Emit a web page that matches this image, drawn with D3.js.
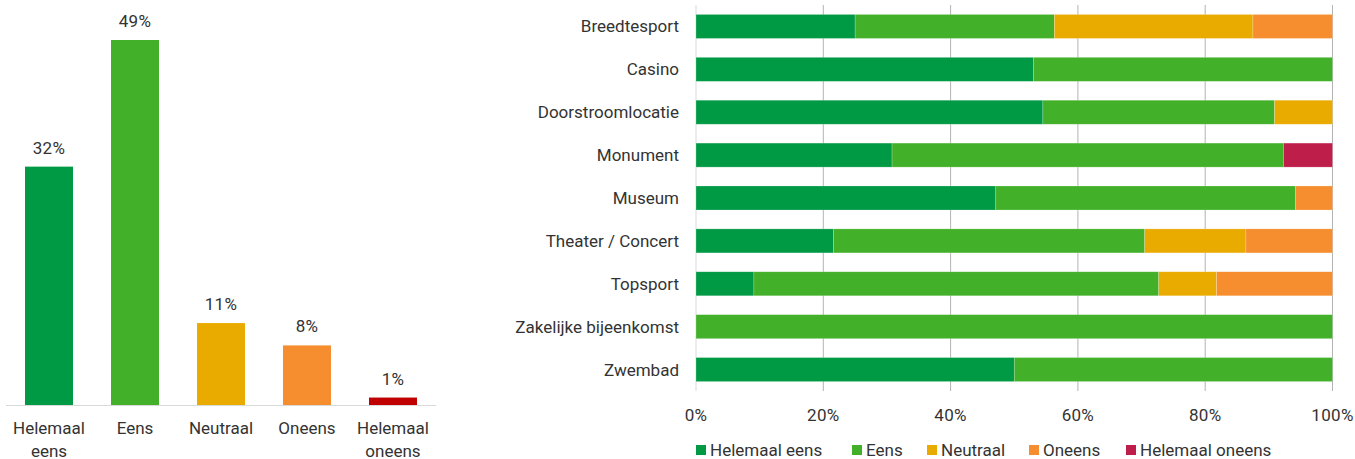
<!DOCTYPE html>
<html>
<head>
<meta charset="utf-8">
<script src="https://cdn.jsdelivr.net/npm/d3@7"></script>
<style>
  html, body { margin: 0; padding: 0; background: #fff; }
  svg { display: block; font-family: Roboto, "Liberation Sans", Arial, sans-serif; font-weight: 400; }
  text { fill: #333; }
</style>
</head>
<body>
<svg id="chart" width="1355" height="459"></svg>
<script>
// Overall answer distribution
const answerLabels = ["Helemaal eens", "Eens", "Neutraal", "Oneens", "Helemaal oneens"];
const totalShares = [32, 49, 11, 8, 1];
const totalColors = ["#009A44", "#43B02A", "#EAAB00", "#F68D2E", "#C00000"];

// Distribution per type of location
const locations = ["Breedtesport", "Casino", "Doorstroomlocatie", "Monument", "Museum",
                   "Theater / Concert", "Topsport", "Zakelijke bijeenkomst", "Zwembad"];
const helemaalEens   = [25.0, 53.0, 54.5, 30.8, 47.1, 21.6,  9.1,   0, 50];
const eens           = [31.3, 47.0, 36.4, 61.5, 47.1, 48.9, 63.6, 100, 50];
const neutraal       = [31.2,    0,  9.1,    0,    0, 15.9,  9.1,   0,  0];
const oneens         = [12.5,    0,    0,    0,  5.8, 13.6, 18.2,   0,  0];
const helemaalOneens = [   0,    0,    0,  7.7,    0,    0,    0,   0,  0];
const stackColors = ["#009A44", "#43B02A", "#EAAB00", "#F68D2E", "#BE1E4A"];
const pctTicks = [0, 20, 40, 60, 80, 100];

const FS = 17;
const svg = d3.select("#chart");

/* ---------- Left: column chart ---------- */
const left = svg.append("g");
const xL = d3.scaleBand().domain(answerLabels).range([6, 436])
  .paddingInner(0.442).paddingOuter(0.221);
const yL = d3.scaleLinear().domain([0, 49]).range([405, 40]);

left.selectAll("rect.col").data(totalShares).join("rect")
  .attr("class", "col")
  .attr("x", (d, i) => xL(answerLabels[i]))
  .attr("width", xL.bandwidth())
  .attr("y", d => yL(d))
  .attr("height", d => yL(0) - yL(d))
  .attr("fill", (d, i) => totalColors[i]);

left.append("line")
  .attr("x1", 6).attr("x2", 436)
  .attr("y1", yL(0) + 0.5).attr("y2", yL(0) + 0.5)
  .attr("stroke", "#d9d9d9").attr("stroke-width", 1);

left.selectAll("text.val").data(totalShares).join("text")
  .attr("class", "val")
  .attr("x", (d, i) => xL(answerLabels[i]) + xL.bandwidth() / 2)
  .attr("y", d => yL(d) - 13)
  .attr("text-anchor", "middle")
  .attr("font-size", FS)
  .attr("letter-spacing", 0.3)
  .text(d => d + "%");

const catText = left.selectAll("text.cat").data(answerLabels).join("text")
  .attr("class", "cat")
  .attr("text-anchor", "middle")
  .attr("font-size", FS);
catText.each(function (d) {
  const words = d.split(" ");
  const cx = xL(d) + xL.bandwidth() / 2;
  words.forEach((w, k) => {
    d3.select(this).append("tspan")
      .attr("x", cx)
      .attr("y", 434 + k * 22.5)
      .text(w);
  });
});

/* ---------- Right: 100% stacked bar chart ---------- */
const right = svg.append("g");
const xR = d3.scaleLinear().domain([0, 100]).range([696, 1332.5]);
const yR = d3.scaleBand().domain(locations).range([5, 391]).paddingInner(0.44).paddingOuter(0.22);

// vertical gridlines
right.selectAll("line.grid").data(pctTicks).join("line")
  .attr("class", "grid")
  .attr("x1", d => xR(d)).attr("x2", d => xR(d))
  .attr("y1", 5).attr("y2", 391)
  .attr("stroke", d => d === 0 ? "#d9d9d9" : "#b3b3b3")
  .attr("stroke-width", 1);

const seriesArrays = [helemaalEens, eens, neutraal, oneens, helemaalOneens];
const rows = locations.map((loc, i) => {
  const r = { loc };
  answerLabels.forEach((a, k) => { r[a] = seriesArrays[k][i]; });
  return r;
});
const stacked = d3.stack().keys(answerLabels)(rows);

right.selectAll("g.series").data(stacked).join("g")
  .attr("class", "series")
  .attr("fill", (s, k) => stackColors[k])
  .selectAll("rect").data(s => s.filter(p => p[1] - p[0] > 0)).join("rect")
  .attr("x", p => xR(p[0]))
  .attr("width", p => xR(p[1]) - xR(p[0]))
  .attr("y", p => yR(p.data.loc))
  .attr("height", yR.bandwidth())
  .attr("stroke", "rgba(255,255,255,0.35)")
  .attr("stroke-width", 0.6);

right.selectAll("text.loc").data(locations).join("text")
  .attr("class", "loc")
  .attr("x", 679)
  .attr("y", d => yR(d) + yR.bandwidth() / 2)
  .attr("dy", "0.35em")
  .attr("text-anchor", "end")
  .attr("font-size", FS)
  .text(d => d);

right.selectAll("text.tick").data(pctTicks).join("text")
  .attr("class", "tick")
  .attr("x", d => xR(d))
  .attr("y", 421)
  .attr("text-anchor", "middle")
  .attr("font-size", FS)
  .attr("letter-spacing", 0.3)
  .text(d => d + "%");

// legend
const legendX = [696, 852, 927, 1029, 1126];
const legend = right.selectAll("g.leg").data(answerLabels).join("g")
  .attr("class", "leg")
  .attr("transform", (d, i) => `translate(${legendX[i]},445)`);
legend.append("rect")
  .attr("width", 10).attr("height", 10)
  .attr("fill", (d, i) => stackColors[i]);
legend.append("text")
  .attr("x", 14).attr("y", 5).attr("dy", "0.35em")
  .attr("font-size", FS)
  .text(d => d);
</script>
</body>
</html>
